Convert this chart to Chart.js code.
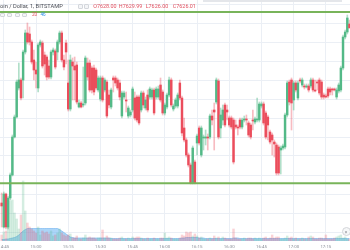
<!DOCTYPE html>
<html><head><meta charset="utf-8">
<script src="https://cdn.jsdelivr.net/npm/chart.js@4.4.1/dist/chart.umd.min.js"></script>
<style>
html,body{margin:0;padding:0;background:#fff;overflow:hidden}
#wrap{position:relative;width:350px;height:250px;overflow:hidden}
canvas{position:absolute;left:0;top:0}
.t{position:absolute;font-family:Roboto,"Liberation Sans",sans-serif;white-space:nowrap;line-height:1}
.ic{position:absolute;box-sizing:border-box;border:1px solid #d4d7dc;background:#f4f5f7;border-radius:1px}
</style></head><body>
<div id="wrap">
<canvas id="c" width="350" height="250"></canvas>
<div class="t" style="left:0;top:3.6px;font-size:5.7px;color:#4a4d55">oin / Dollar, 1, BITSTAMP</div>
<div class="ic" style="left:77.5px;top:4px;width:5px;height:5px"></div>
<div class="ic" style="left:83.5px;top:4px;width:5px;height:5px"></div>
<div class="t" style="left:93.3px;top:3.8px;font-size:5.4px;color:#e2505f">O7628.00</div>
<div class="t" style="left:118.8px;top:3.8px;font-size:5.4px;color:#e2505f">H7629.99</div>
<div class="t" style="left:145.7px;top:3.8px;font-size:5.4px;color:#e2505f">L7626.00</div>
<div class="t" style="left:172.8px;top:3.8px;font-size:5.4px;color:#e2505f">C7626.01</div>
<div style="position:absolute;left:203px;top:0;width:139px;height:1.5px;background:#e4e6ea"></div>
<div class="ic" style="left:0px;top:12.8px;width:5px;height:4px"></div>
<div class="ic" style="left:7.3px;top:12.8px;width:5px;height:4px"></div>
<div class="ic" style="left:15px;top:12.8px;width:5px;height:4px"></div>
<div class="ic" style="left:22.3px;top:12.8px;width:5px;height:4px"></div>
<div class="t" style="left:32px;top:13px;font-size:4.6px;color:#e2505f">20</div>
<div class="t" style="left:40.5px;top:13px;font-size:4.6px;color:#2a8fe8">46</div>
<div class="t" style="left:341.5px;top:226.8px;width:9px;height:9px;box-sizing:border-box;border:1px solid #d3d5d9;border-radius:50%;background:#f6f7f8;font-size:6px;color:#7a7d85;text-align:center;line-height:7px">»</div>
</div>
<script>
// 1-minute candles; first candle is one minute before 14:45
const firstMinute = -1;
const opens = [7538.5,7526.5,7543,7526.5,7541,7552.5,7571.5,7581.5,7596,7600,
 7600,7614,7623.5,7623,7619,7610,7605,7596,7617.5,7618.5,
 7612.5,7611.5,7607,7601.5,7614,7614.5,7614,7619,7623.5,7610,
 7618.5,7598.5,7585.5,7609,7607,7607.5,7586.5,7588.5,7587.5,7588.5,
 7608.5,7608.5,7606,7606,7605,7595,7590.5,7601,7595,7599,
 7592.5,7586.5,7601,7601,7600,7598.5,7582,7591.5,7590,7582,
 7582.5,7585,7591,7591.5,7591.5,7585,7593.5,7586,7592.5,7591.5,
 7591.5,7595,7591.5,7591.5,7597.5,7594,7583.5,7586.5,7592.5,7600,
 7585.5,7587,7587,7598.5,7591,7576,7570,7562.5,7557.5,7548.5,
 7559,7568.5,7576,7562.5,7571,7571,7571.5,7571.5,7582,7585,
 7589,7599.5,7576,7580,7587.5,7585,7581,7581,7580,7577.5,
 7576.5,7580,7576.5,7580,7580.5,7578.5,7577.5,7580,7579,7580,
 7580,7587,7588,7583.5,7581.5,7574,7572.5,7569,7567.5,7566.5,
 7565,7566,7566.5,7582.5,7599,7600,7590,7598.5,7591,7600,
 7597.5,7597,7596.5,7597,7597,7600,7595,7599,7600,7599,
 7592.5,7592,7595.5,7595.5,7595.5,7595.5,7591.5,7594.5,7595,7606,
 7621.5,7624,7628];
const highs = [7543.5,7544,7543.5,7542,7553.5,7572.5,7582.5,7600,7608.5,7601,
 7615,7625,7628.5,7626.5,7620,7615,7609,7618.5,7620,7619.5,
 7614,7612.5,7610,7615,7616,7615.5,7620,7624.5,7624.5,7612.5,
 7620,7610,7612.5,7611,7611.5,7609,7590,7589.5,7606.5,7612,
 7611,7610,7607,7607.5,7606,7602,7602,7602,7601,7600,
 7595,7596,7602,7602,7601,7600,7594.5,7594.5,7594,7587,
 7585,7596.5,7594,7592.5,7592.5,7594.5,7594.5,7591.5,7595,7596.5,
 7596,7596,7596.5,7597,7601,7595,7588.5,7593.5,7601.5,7601,
 7588,7591,7593.5,7600,7592,7581,7571,7563.5,7558.5,7567,
 7560,7573,7577,7577,7572.5,7575,7573,7583,7585,7588.5,
 7601,7600.5,7586,7587.5,7588.5,7587.5,7582,7582,7581,7580,
 7577.5,7581,7581,7582,7582.5,7579.5,7578.5,7585,7581.5,7591,
 7589,7589,7589,7584.5,7582.5,7575,7573.5,7570,7568.5,7567.5,
 7567,7568,7583.5,7599.5,7600,7601,7599.5,7599.5,7599.5,7601,
 7601,7598,7598,7598,7601,7601,7600,7600,7601,7600,
 7593.5,7593,7596.5,7596.5,7596,7596,7596,7598.5,7607,7622.5,
 7625,7632.5,7629.99];
const lows = [7526.5,7526,7525.5,7525.5,7540,7552,7571,7581,7595,7590,
 7591,7613,7618,7617.5,7608,7600,7596,7594,7616.5,7606,
 7602.5,7600,7600.5,7600.5,7612.5,7605.5,7610,7618,7609,7605,
 7608,7584.5,7584.5,7590,7590,7588,7586,7586,7586.5,7587.5,
 7600,7594,7593.5,7592.5,7595,7594,7589.5,7589,7594,7581,
 7586,7585.5,7594,7597,7595,7590,7581,7590.5,7584,7581,
 7581.5,7584,7580,7579,7577.5,7584,7586,7585,7584,7590.5,
 7590.5,7582.5,7590.5,7590.5,7589,7582.5,7582.5,7585.5,7591.5,7586.5,
 7584.5,7586,7586,7590,7572,7569,7561.5,7556.5,7548,7548,
 7548,7562.5,7567.5,7561.5,7565,7567.5,7565,7570.5,7577.5,7565,
 7588,7570.5,7571,7577.5,7576.5,7580,7576.5,7575.5,7558,7575.5,
 7572.5,7575.5,7575.5,7579,7577.5,7571.5,7570.5,7575,7578,7579,
 7579,7586,7577.5,7570.5,7570,7568,7562.5,7561.5,7552.5,7552.5,
 7553,7565,7565.5,7581.5,7587.5,7575,7585,7594,7590,7598.5,
 7596.5,7595.5,7596,7594,7596,7594,7594,7595,7592.5,7590.5,
 7590.5,7591,7591,7592.5,7592.5,7594.5,7590.5,7593.5,7594,7605,
 7620.5,7623,7626];
const closes = [7537,7543,7526.5,7541,7552.5,7571.5,7581.5,7599,7600,7591,
 7614,7623.5,7619,7619,7609,7605,7603,7617.5,7619,7607,
 7608,7601.5,7601.5,7614,7615,7606.5,7619,7623.5,7610,7606.5,
 7614,7585.5,7610,7607,7605,7589,7588.5,7586.5,7588,7611,
 7601.5,7595,7595,7594,7596,7601,7601,7590,7600,7582,
 7587.5,7595,7600,7598.5,7596,7591.5,7593.5,7593.5,7589.5,7586,
 7584,7595.5,7581,7580,7578.5,7593.5,7587.5,7590,7585,7595.5,
 7595,7583.5,7595.5,7595.5,7590,7583.5,7587.5,7592.5,7600,7587.5,
 7587,7590,7592.5,7591,7573.5,7570,7562.5,7557.5,7548.5,7566,
 7548.5,7572,7568.5,7576,7571.5,7571.5,7571,7582,7580,7584,
 7600,7571.5,7582.5,7585,7577.5,7584,7577.5,7576.5,7559,7576.5,
 7576,7576.5,7580,7580.5,7580,7572.5,7571.5,7579.5,7580.5,7580.5,
 7588,7588,7578.5,7571.5,7577.5,7569,7570,7568,7553.5,7553.5,
 7566,7567,7582.5,7598.5,7589,7588.5,7598.5,7595,7598.5,7599.5,
 7600,7596.5,7597,7595,7600,7595,7594.5,7598.5,7593.5,7591.5,
 7591.5,7591.5,7592,7594,7595,7595,7595,7597.5,7606,7621.5,
 7624,7631,7626.01];
const volumes = [6,9,10,14,40,41,28,22,12,26,
 60,30,18,14,12,10,8,14,6,10,
 8,9,7,10,5,6,8,12,8,6,
 5,6,7,3,3,5,2,2,3,6,
 3,4,3,3,2,3,3,11,3,5,
 3,3,2,2,2,3,4,2,2,3,
 2,4,3,4,4,3,2,2,3,2,
 2,3,2,2,3,3,8,3,4,3,
 2,2,2,3,6,5,9,8,9,5,
 7,5,3,4,2,2,2,3,2,5,
 3,4,2,4,3,2,2,2,12,3,
 2,2,2,3,2,3,3,2,3,2,
 3,2,3,4,2,3,6,3,4,4,
 2,2,3,5,3,4,2,3,2,2,
 3,2,2,4,5,4,2,2,3,3,
 2,6,2,2,2,3,4,5,6,3,
 4,2,2];
const volumeAvg = [1.5,1.5,2,2,2.5,3,3.5,4.5,6,8,
 10,11.5,12.5,12.5,12.5,12.5,12.5,12.5,12.5,12.5,
 12.5,12.5,12.5,12.5,12.5,12.5,12.5,11.5,10,8.5,
 7,5.5,4,3.5,3,3,3,3,3,3,
 3,3,3,3,3,3,3,3,3,3,
 3,2.5,2.5,2.5,2.5,2.5,2.5,2.5,2.5,2.5,
 2.5,2.5,2.5,2.5,2.5,2.5,2.5,2.5,2.5,2.5,
 2.5,2.5,2.5,2.5,2.5,2.5,2.5,2.5,2.5,2.5,
 2.5,2.5,2.5,2.5,3,3,3.5,3.5,3.5,3.5,
 3.5,3.5,3,3,3,2.5,2.5,2.5,2.5,2.5,
 2.5,2.5,2.5,2.5,2.5,2.5,2.5,2.5,3,3,
 3,2.5,2.5,2.5,2.5,2.5,2.5,2.5,2.5,2.5,
 2.5,2.5,2.5,2.5,2.5,2.5,2.5,2.5,2.5,2.5,
 2.5,2.5,2.5,2.5,2.5,2.5,2.5,2.5,2.5,2.5,
 2.5,2.5,2.5,2.5,2.5,2.5,2.5,2.5,2.5,2.5,
 2.5,2.5,2.5,2.5,2.5,2.5,2.5,2.5,2.5,2.5,
 2.5,2.5,2.5];
const levels = [7634, 7548.4];           // horizontal support / resistance lines
const tickMinutes = [0,15,30,45,60,75,90,105,120,135,150];
const timeLabels = ['14:45','15:00','15:15','15:30','15:45','16:00','16:15','16:30','16:45','17:00','17:15'];
const gridPrices = [7638,7628.5,7619,7609.5,7600,7590.5,7581,7571.5,7562,7552.5,7543,7533.5,7524];

const UP = '#53b987', DOWN = '#eb4d5c';
const isUp = opens.map((o,i) => closes[i] >= o);
const xOf = i => firstMinute + i;

const datasets = [
  {type:'line', yAxisID:'yv', order:10, data: volumeAvg.map((v,i)=>({x:xOf(i), y:v})),
   fill:'origin', backgroundColor:'rgba(120,188,244,0.62)', borderColor:'rgba(96,170,236,0.9)',
   borderWidth:0.6, pointRadius:0, tension:0},
  {type:'bar', yAxisID:'yv', order:9, grouped:false, barThickness:1.8,
   data: volumes.map((v,i)=>({x:xOf(i), y:v})),
   backgroundColor: isUp.map(u => u ? 'rgba(83,185,135,0.25)' : 'rgba(235,77,92,0.25)')},
  {type:'bar', yAxisID:'y', order:8, grouped:false, barThickness:1,
   data: lows.map((l,i)=>({x:xOf(i), y:[l, highs[i]]})),
   backgroundColor: isUp.map(u => u ? 'rgba(83,185,135,0.45)' : 'rgba(235,77,92,0.38)')},
  {type:'bar', yAxisID:'y', order:7, grouped:false, barThickness:1.8, minBarLength:1,
   data: opens.map((o,i)=>({x:xOf(i), y:[o, closes[i]]})),
   backgroundColor: isUp.map(u => u ? UP : DOWN)}
];
levels.forEach(p => datasets.push({type:'line', yAxisID:'y', order:1,
  data:[{x:-3, y:p},{x:163, y:p}], borderColor:'#78b45a', borderWidth:2, pointRadius:0}));

new Chart(document.getElementById('c'), {
  type:'bar',
  data:{datasets},
  options:{
    responsive:false, animation:false, devicePixelRatio:1,
    layout:{padding:0},
    plugins:{legend:{display:false}, tooltip:{enabled:false}},
    scales:{
      x:{type:'linear', min:-1.77, max:161.25, offset:false, position:'bottom',
         grid:{offset:false, color:'#ebeff5', lineWidth:1, drawTicks:false},
         border:{display:false},
         ticks:{autoSkip:false, maxRotation:0, padding:3.2, color:'#8a8e98',
                font:{family:'Roboto', size:4.4},
                callback:(v,i)=>timeLabels[i]},
         afterBuildTicks:s=>{ s.ticks = tickMinutes.map(v=>({value:v})); },
         afterFit:s=>{ s.height = 9; s.paddingLeft = 0; s.paddingRight = 0; }},
      y:{type:'linear', min:7519.5, max:7640, position:'right',
         grid:{color:'#ebeff5', lineWidth:1, drawTicks:false},
         border:{display:false}, ticks:{display:false},
         afterBuildTicks:s=>{ s.ticks = gridPrices.map(v=>({value:v})); },
         afterFit:s=>{ s.width = 0; s.paddingTop = 0; s.paddingBottom = 0; }},
      yv:{type:'linear', display:false, min:0, max:241, position:'left'}
    }
  }
});
</script>
</body></html>
